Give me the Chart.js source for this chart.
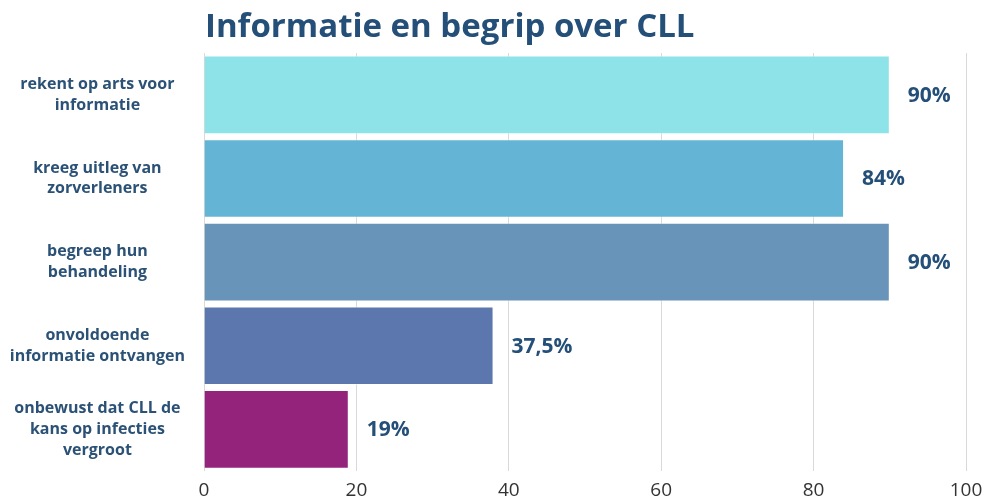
<!DOCTYPE html>
<html>
<head>
<meta charset="utf-8">
<script src="https://cdn.jsdelivr.net/npm/chart.js@4"></script>
<style>
  html, body { margin:0; padding:0; background:#fff; }
  #wrap { width:992px; height:503px; position:relative; }
</style>
</head>
<body>
<div id="wrap"><canvas id="chart"></canvas></div>
<script>
const title = 'Informatie en begrip over CLL';
const categories = [
  ['rekent op arts voor', 'informatie'],
  ['kreeg uitleg van', 'zorverleners'],
  ['begreep hun', 'behandeling'],
  ['onvoldoende', 'informatie ontvangen'],
  ['onbewust dat CLL de', 'kans op infecties', 'vergroot']
];
const values = [90, 84, 90, 38, 19];
const valueLabels = ['90%', '84%', '90%', '37,5%', '19%'];
const barColors = ['#8ee3e8', '#64b5d5', '#6794b8', '#5b77ad', '#93237b'];
const xTicks = [0, 20, 40, 60, 80, 100];

const textBlue = '#244f78';

const titlePlugin = {
  id: 'titleText',
  afterDraw(chart){
    const ctx = chart.ctx;
    ctx.save();
    ctx.font = 'bold 33px "Open Sans"';
    ctx.fillStyle = textBlue;
    ctx.textAlign = 'left';
    ctx.textBaseline = 'alphabetic';
    ctx.fillText(title, chart.chartArea.left + 1, 37);
    ctx.restore();
  }
};

const valuePlugin = {
  id: 'valueLabels',
  afterDatasetsDraw(chart){
    const ctx = chart.ctx;
    const meta = chart.getDatasetMeta(0);
    ctx.save();
    ctx.font = 'bold 21px "Open Sans"';
    ctx.fillStyle = textBlue;
    ctx.textAlign = 'left';
    ctx.textBaseline = 'middle';
    meta.data.forEach((bar, i) => {
      ctx.fillText(valueLabels[i], bar.x + 18, bar.y + 1);
    });
    ctx.restore();
  }
};

new Chart(document.getElementById('chart'), {
  type: 'bar',
  data: {
    labels: categories,
    datasets: [{
      data: values,
      backgroundColor: barColors,
      borderColor: 'rgba(255,255,255,0.5)',
      borderWidth: 1,
      barPercentage: 0.94,
      categoryPercentage: 1
    }]
  },
  options: {
    indexAxis: 'y',
    responsive: true,
    maintainAspectRatio: false,
    animation: false,
    layout: { padding: { top: 53, right: 26, bottom: 0, left: 0 } },
    plugins: { legend: { display: false }, tooltip: { enabled: false } },
    scales: {
      x: {
        min: 0, max: 100,
        afterBuildTicks: ax => { ax.ticks = xTicks.map(v => ({ value: v })); },
        afterFit: ax => { ax.height = 31; },
        grid: { color: '#d9d9d9', drawTicks: false, lineWidth: 1 },
        border: { display: false },
        ticks: { color: '#333', padding: 7, font: { family: '"Open Sans"', size: 19, lineHeight: 1.26 } }
      },
      y: {
        grid: { display: false },
        border: { display: false },
        afterFit: ax => { ax.width = 204; },
        ticks: {
          crossAlign: 'center',
          color: '#2b5276',
          padding: 11,
          font: { family: '"Open Sans"', size: 16, weight: 'bold', lineHeight: 1.3 }
        }
      }
    }
  },
  plugins: [titlePlugin, valuePlugin]
});
</script>
</body>
</html>
